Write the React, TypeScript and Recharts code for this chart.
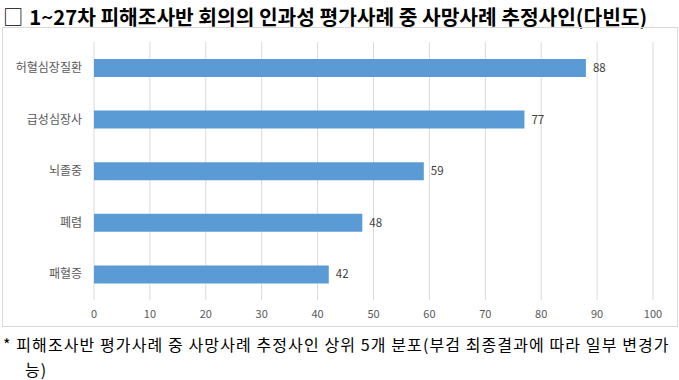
import React from "react";
import { BarChart, Bar, XAxis, YAxis, CartesianGrid, LabelList } from "recharts";

const causes = ["허혈심장질환", "급성심장사", "뇌졸중", "폐렴", "패혈증"];
const counts = [88, 77, 59, 48, 42];
const xTicks = [0, 10, 20, 30, 40, 50, 60, 70, 80, 90, 100];

const titleText = "1~27차 피해조사반 회의의 인과성 평가사례 중 사망사례 추정사인(다빈도)";
const noteLine1 = "* 피해조사반 평가사례 중 사망사례 추정사인 상위 5개 분포(부검 최종결과에 따라 일부 변경가";
const noteLine2 = "능)";

const data = causes.map((name, i) => ({ name, value: counts[i] }));

const FONT = "'Noto Sans CJK KR', 'Noto Sans', sans-serif";

const App: React.FC = () => (
  <div
    style={{
      position: "absolute",
      left: 0,
      top: 0,
      width: 679,
      height: 380,
      background: "#fff",
      fontFamily: FONT,
      overflow: "hidden",
    }}
  >
    {/* 제목 */}
    <div
      style={{
        position: "absolute",
        left: 3,
        top: 2,
        fontSize: 20.3,
        lineHeight: "28px",
        whiteSpace: "nowrap",
        color: "#000",
      }}
    >
      <span style={{ fontWeight: 400, marginRight: 6 }}>□</span>
      <span style={{ fontWeight: 700 }}>{titleText}</span>
    </div>

    {/* 차트 박스 */}
    <div
      style={{
        position: "absolute",
        left: 2,
        top: 27,
        width: 674,
        height: 298,
        border: "1px solid #d9d9d9",
      }}
    >
      <BarChart
        width={674}
        height={298}
        data={data}
        layout="vertical"
        margin={{ top: 14, right: 24, left: 0, bottom: 0 }}
        barSize={18}
      >
        <CartesianGrid horizontal={false} stroke="#d9d9d9" />
        <XAxis
          type="number"
          domain={[0, 100]}
          ticks={xTicks}
          axisLine={false}
          tickLine={false}
          tickMargin={4}
          height={26}
          tick={{ fill: "#595959", fontSize: 11, fontFamily: FONT }}
        />
        <YAxis
          type="category"
          dataKey="name"
          width={91}
          axisLine={false}
          tickLine={false}
          tickMargin={6}
          tick={{ fill: "#595959", fontSize: 12, fontFamily: FONT }}
        />
        <Bar dataKey="value" fill="#5B9BD5" isAnimationActive={false}>
          <LabelList
            dataKey="value"
            position="right"
            offset={7}
            fill="#404040"
            fontSize={11.5}
            fontFamily={FONT}
          />
        </Bar>
      </BarChart>
    </div>

    {/* 주석 */}
    <div
      style={{
        position: "absolute",
        left: 3,
        top: 334,
        fontSize: 16,
        lineHeight: "20px",
        letterSpacing: 1.1,
        color: "#000",
        whiteSpace: "nowrap",
      }}
    >
      {noteLine1}
    </div>
    <div
      style={{
        position: "absolute",
        left: 25,
        top: 359,
        fontSize: 16,
        lineHeight: "20px",
        letterSpacing: 1.1,
        color: "#000",
        whiteSpace: "nowrap",
      }}
    >
      {noteLine2}
    </div>
  </div>
);

export default App;
